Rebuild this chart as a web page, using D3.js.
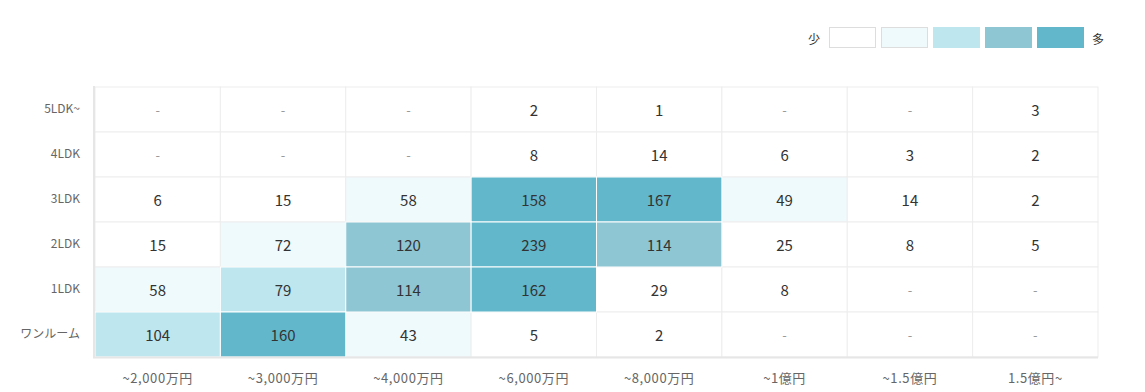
<!DOCTYPE html>
<html><head><meta charset="utf-8">
<script src="https://cdn.jsdelivr.net/npm/d3@7"></script>
<style>
body{margin:0;background:#fff;}
svg{display:block;font-family:"Noto Sans CJK JP","Noto Sans",sans-serif;}
</style></head>
<body><svg id="c" width="1145" height="392"></svg>
<script>
const priceBands = ["~2,000万円","~3,000万円","~4,000万円","~6,000万円","~8,000万円","~1億円","~1.5億円","1.5億円~"];
const layouts = ["5LDK~","4LDK","3LDK","2LDK","1LDK","ワンルーム"];
const counts_5LDK = [null,null,null,2,1,null,null,3];
const counts_4LDK = [null,null,null,8,14,6,3,2];
const counts_3LDK = [6,15,58,158,167,49,14,2];
const counts_2LDK = [15,72,120,239,114,25,8,5];
const counts_1LDK = [58,79,114,162,29,8,null,null];
const counts_1R = [104,160,43,5,2,null,null,null];
const rows = [counts_5LDK,counts_4LDK,counts_3LDK,counts_2LDK,counts_1LDK,counts_1R];
const binThresholds = [30,75,110,150];
const binColors = ["#ffffff","#effafc","#bde6ef","#8fc6d3","#62b7cb"];

const svg = d3.select("#c");
const pLeft=95,pRight=1098,pTop=87,pBottom=357;
const x = d3.scaleBand().domain(priceBands).range([pLeft,pRight]);
const y = d3.scaleBand().domain(layouts).range([pTop,pBottom]);
const color = d3.scaleThreshold().domain(binThresholds).range(binColors);

const cells=[];
rows.forEach((r,i)=>r.forEach((v,j)=>cells.push({row:layouts[i],col:priceBands[j],v})));
const isLight = d=>d.v==null||color(d.v)==="#ffffff"||color(d.v)==="#effafc";

const g = svg.append("g");
g.selectAll("rect.cell").data(cells).join("rect").attr("class","cell")
 .attr("x",d=>x(d.col)).attr("y",d=>y(d.row))
 .attr("width",x.bandwidth()).attr("height",y.bandwidth())
 .attr("fill",d=>d.v==null?"#fff":color(d.v))
 .attr("stroke","#ededed").attr("stroke-width",1);
g.selectAll("rect.cb").data(cells.filter(d=>!isLight(d))).join("rect").attr("class","cb")
 .attr("x",d=>x(d.col)).attr("y",d=>y(d.row))
 .attr("width",x.bandwidth()).attr("height",y.bandwidth())
 .attr("fill",d=>color(d.v)).attr("stroke","#fff").attr("stroke-width",1);

svg.append("line").attr("x1",pLeft-1).attr("x2",pLeft-1).attr("y1",pTop-1).attr("y2",pBottom+1).attr("stroke","#e6e6e6").attr("stroke-width",2);
svg.append("line").attr("x1",pLeft-2).attr("x2",pRight).attr("y1",pBottom+0.5).attr("y2",pBottom+0.5).attr("stroke","#e6e6e6").attr("stroke-width",2);

g.selectAll("text.val").data(cells).join("text").attr("class","val")
 .attr("x",d=>x(d.col)+x.bandwidth()/2).attr("y",d=>y(d.row)+y.bandwidth()/2)
 .attr("text-anchor","middle").attr("dominant-baseline","central")
 .attr("font-size",d=>d.v==null?13:15)
 .attr("fill",d=>d.v==null?"#999":"#333")
 .text(d=>d.v==null?"-":d.v);

const yAxis = svg.append("g").attr("transform",`translate(${pLeft-2},0)`).call(d3.axisLeft(y).tickSize(0).tickPadding(13));
yAxis.select(".domain").remove();
yAxis.selectAll("text").attr("font-size",12).attr("fill","#666").attr("font-family","Noto Sans CJK JP");
const xAxis = svg.append("g").attr("transform",`translate(0,${pBottom})`).call(d3.axisBottom(x).tickSize(0).tickPadding(17));
xAxis.select(".domain").remove();
xAxis.selectAll("text").attr("font-size",13).attr("letter-spacing","0.6px").attr("fill","#666").attr("font-family","Noto Sans CJK JP");

const lx = d3.scaleBand().domain(d3.range(binColors.length)).range([829,1084]).paddingInner(0.096);
const lg = svg.append("g");
lg.selectAll("rect").data(binColors).join("rect")
 .attr("x",(d,i)=>lx(i)+0.5).attr("y",27.5).attr("width",lx.bandwidth()-1).attr("height",20)
 .attr("fill",d=>d).attr("stroke",(d,i)=>i<2?"#dddddd":d);
lg.append("text").attr("x",814).attr("y",38).attr("text-anchor","middle").attr("dominant-baseline","central").attr("font-size",12).attr("fill","#333").text("少");
lg.append("text").attr("x",1098).attr("y",38).attr("text-anchor","middle").attr("dominant-baseline","central").attr("font-size",12).attr("fill","#333").text("多");
</script></body></html>
